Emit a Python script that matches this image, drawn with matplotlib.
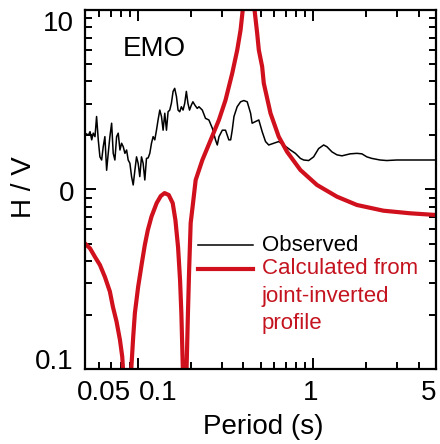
import numpy as np
import matplotlib
matplotlib.use("Agg")
import matplotlib.pyplot as plt
from matplotlib.transforms import ScaledTranslation

plt.rcParams['font.family'] = ['Liberation Sans', 'DejaVu Sans']

# observed H/V (period in s)
obs_period = [0.050, 0.0523, 0.0534, 0.0546, 0.0557, 0.0570, 0.0582, 0.0595, 0.0608, 0.0622,
              0.0635, 0.0649, 0.0664, 0.0678, 0.0693, 0.0709, 0.0724, 0.0740, 0.0757, 0.0773,
              0.0791, 0.0808, 0.0826, 0.0844, 0.0863, 0.0881, 0.0901, 0.0921, 0.0941, 0.0962,
              0.0983, 0.1004, 0.1026, 0.1049, 0.1072, 0.1096, 0.112, 0.1145, 0.117, 0.1196,
              0.1222, 0.1249, 0.1277, 0.1304, 0.1334, 0.1364, 0.1393, 0.1424, 0.1456, 0.1487,
              0.152, 0.1553, 0.1588, 0.1622, 0.166, 0.1695, 0.1733, 0.177, 0.181, 0.185,
              0.189, 0.193, 0.197, 0.202, 0.206, 0.211, 0.218, 0.223, 0.233, 0.243,
              0.254, 0.266, 0.277, 0.2836, 0.290, 0.303, 0.316, 0.330, 0.338, 0.345,
              0.353, 0.368, 0.385, 0.402, 0.420, 0.439, 0.448, 0.468, 0.489, 0.511,
              0.534, 0.557, 0.595, 0.635, 0.678, 0.740, 0.790, 0.844, 0.881, 0.941,
              1.004, 1.072, 1.145, 1.196, 1.277, 1.363, 1.455, 1.622, 1.771, 1.891,
              2.018, 2.154, 2.40, 2.62, 2.99, 3.40, 4.05, 5.0]
obs_hv = [2.06, 2.01, 2.10, 1.89, 2.06, 1.97, 2.55, 1.89, 1.52, 1.46,
          1.73, 1.97, 1.28, 1.59, 1.97, 2.34, 1.59, 1.46, 1.97, 2.06,
          1.66, 1.81, 1.73, 1.59, 1.66, 1.46, 1.40, 1.18, 1.06, 1.28,
          1.52, 1.40, 1.18, 1.52, 1.40, 1.13, 1.49, 1.50, 1.59, 1.81,
          1.97, 1.89, 2.14, 2.44, 2.77, 2.55, 2.14, 2.66, 2.14, 2.71,
          2.77, 3.02, 3.52, 3.66, 3.29, 2.77, 2.71, 2.89, 2.77, 3.02,
          3.52, 3.02, 2.77, 2.96, 3.08, 2.96, 2.83, 2.89, 2.77, 2.49,
          2.44, 2.19, 1.89, 1.77, 1.97, 2.14, 2.14, 1.89, 1.89, 2.14,
          2.55, 2.89, 3.08, 3.13, 3.08, 2.66, 2.34, 2.39, 2.44, 2.10,
          1.85, 1.77, 1.81, 1.85, 1.77, 1.66, 1.59, 1.49, 1.46, 1.45,
          1.52, 1.69, 1.77, 1.73, 1.62, 1.56, 1.54, 1.58, 1.59, 1.58,
          1.52, 1.49, 1.46, 1.45, 1.46, 1.46, 1.46, 1.46]

# calculated from joint-inverted profile
calc_period = [0.050, 0.0534, 0.0570, 0.0608, 0.0649, 0.0693, 0.0721, 0.0756, 0.0791, 0.0815,
               0.0835, 0.087, 0.0905, 0.0941, 0.0962, 0.1004, 0.1054, 0.1096, 0.114, 0.1196,
               0.128, 0.1351, 0.142, 0.150, 0.158, 0.1637, 0.1695, 0.174, 0.177, 0.1805,
               0.185, 0.1895, 0.193, 0.196, 0.200, 0.2062, 0.2136, 0.2332, 0.260, 0.2897,
               0.316, 0.345, 0.3685, 0.385, 0.396, 0.41, 0.428, 0.446, 0.4624, 0.4786,
               0.489, 0.511, 0.522, 0.570, 0.635, 0.709, 0.844, 1.049, 1.364, 1.771,
               2.508, 3.56, 5.0]
calc_hv = [0.50, 0.470, 0.421, 0.380, 0.326, 0.270, 0.222, 0.184, 0.145, 0.117,
           0.08, 0.005, 0.08, 0.151, 0.205, 0.287, 0.389, 0.491, 0.594, 0.706,
           0.84, 0.920, 0.955, 0.932, 0.84, 0.676, 0.478, 0.313, 0.205, 0.10,
           0.01, 0.10, 0.205, 0.356, 0.65, 0.837, 1.13, 1.46, 1.887, 2.44,
           3.15, 4.44, 5.99, 7.74, 10.0, 14.0, 40.0, 14.0, 10.0, 7.42,
           5.99, 4.83, 3.91, 2.66, 1.97, 1.62, 1.284, 1.06, 0.912, 0.820,
           0.762, 0.737, 0.721]

x_ticks = [0.05, 0.1, 1, 5]
x_labels = ['0.05', '0.1', '1', '5']
y_ticks = [0.1, 1, 10]
y_labels = ['0.1', '0', '10']

red = '#d0101c'
red_text = '#c4141f'

fig = plt.figure(figsize=(4.4, 4.44), dpi=100)
ax = fig.add_axes([0.1932, 0.1689, 0.7977, 0.8086])

ax.plot(obs_period, obs_hv, color='black', lw=1.1)
ax.plot(calc_period, calc_hv, color=red, lw=3.0, solid_joinstyle='round')

ax.set_xscale('log')
ax.set_yscale('log')
ax.set_xlim(0.05, 5)
ax.set_ylim(0.1, 10)

ax.set_xticks(x_ticks)
ax.set_xticklabels(x_labels)
ax.set_yticks(y_ticks)
ax.set_yticklabels(y_labels)
ax.xaxis.set_minor_locator(matplotlib.ticker.LogLocator(base=10, subs=np.arange(2, 10)))
ax.yaxis.set_minor_locator(matplotlib.ticker.LogLocator(base=10, subs=np.arange(2, 10)))
ax.xaxis.set_minor_formatter(matplotlib.ticker.NullFormatter())
ax.yaxis.set_minor_formatter(matplotlib.ticker.NullFormatter())

ax.tick_params(which='both', direction='in', top=True, right=True, width=1.4, labelsize=20)
ax.tick_params(which='major', length=8, pad=8)
ax.tick_params(which='minor', length=5)
for s in ax.spines.values():
    s.set_linewidth(1.6)

# nudge end labels inward like the original
shifts_x = {'0.05': 19, '0.1': 20, '1': -3, '5': -7}
for lab in ax.get_xticklabels():
    dx = shifts_x.get(lab.get_text(), 0)
    lab.set_transform(lab.get_transform() + ScaledTranslation(dx / 100, 0, fig.dpi_scale_trans))
shifts_y = {'0.1': 10, '0': -2, '10': -11}
for lab in ax.get_yticklabels():
    dy = shifts_y.get(lab.get_text(), 0)
    lab.set_transform(lab.get_transform() + ScaledTranslation(0, dy / 100, fig.dpi_scale_trans))

ax.set_xlabel('Period (s)', fontsize=20)
ax.set_ylabel('H / V', fontsize=20)
ax.xaxis.set_label_coords(0.507, -0.125)
ax.yaxis.set_label_coords(-0.137, 0.507)

ax.text(0.108, 0.891, 'EMO', transform=ax.transAxes, fontsize=20, va='center', ha='left')

# legend
ax.plot([0.322, 0.479], [0.345, 0.345], color='black', lw=1.1, transform=ax.transAxes)
ax.plot([0.322, 0.479], [0.279, 0.279], color=red, lw=3.0, transform=ax.transAxes)
ax.text(0.504, 0.345, 'Observed', transform=ax.transAxes, fontsize=16, va='center')
ax.text(0.504, 0.279, 'Calculated from', transform=ax.transAxes, fontsize=16, va='center', color=red_text)
ax.text(0.504, 0.203, 'joint-inverted', transform=ax.transAxes, fontsize=16, va='center', color=red_text)
ax.text(0.504, 0.128, 'profile', transform=ax.transAxes, fontsize=16, va='center', color=red_text)

fig.savefig('out.png', dpi=100)
